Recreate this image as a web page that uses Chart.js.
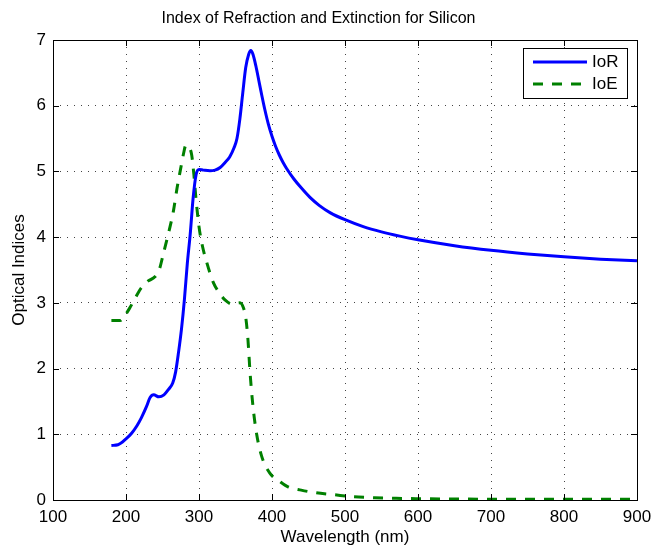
<!DOCTYPE html>
<html>
<head>
<meta charset="utf-8">
<title>Index of Refraction and Extinction for Silicon</title>
<script src="https://cdn.jsdelivr.net/npm/chart.js@4.4.1/dist/chart.umd.min.js"></script>
<style>
    html, body { margin: 0; padding: 0; background: #fff; }
    #chart { display: block; }
</style>
</head>
<body>
<canvas id="chart" width="654" height="549"></canvas>
<script>
// Values
const iorWavelength = [180, 189, 200, 208, 215, 221, 228, 233, 238, 245, 252, 258, 264, 268, 272, 276,
    280, 284, 288, 292, 296, 300, 306, 315, 322, 329, 336, 342, 348, 352, 356, 360, 364, 368, 371,
    374, 378, 382, 386, 390, 395, 400, 405, 410, 415, 420, 430, 440, 452, 465, 480, 500, 525, 550, 575, 600,
    650, 700, 750, 800, 850, 900];
const iorValue = [0.83, 0.84, 0.93, 1.02, 1.13, 1.25, 1.42, 1.56, 1.60, 1.57, 1.60, 1.68, 1.78, 1.95, 2.25, 2.6,
    3.05, 3.6, 4.05, 4.6, 4.95, 5.03, 5.02, 5.01, 5.02, 5.06, 5.14, 5.22, 5.36, 5.5, 5.8, 6.2, 6.58, 6.78, 6.84,
    6.78, 6.6, 6.38, 6.16, 5.95, 5.72, 5.535, 5.38, 5.25, 5.14, 5.045, 4.885, 4.75, 4.605, 4.48, 4.37, 4.265,
    4.16, 4.08, 4.015, 3.96, 3.87, 3.80, 3.745, 3.70, 3.665, 3.64];

const ioeWavelength = [180, 192, 198, 205, 213, 221, 230, 240, 246, 251, 258, 265, 270, 275, 279, 282,
    286, 290, 293, 296, 300, 304, 311, 320, 328, 336, 346, 356, 361, 364, 367, 370, 374, 379, 386,
    397, 411, 422, 440, 460, 485, 510, 540, 570, 600, 650, 700, 800, 900];
const ioeValue = [2.73, 2.73, 2.8, 2.92, 3.08, 3.23, 3.33, 3.4, 3.52, 3.74, 4.05, 4.4, 4.75, 5.05, 5.28, 5.4,
    5.38, 5.25, 4.95, 4.57, 4.16, 3.9, 3.6, 3.3, 3.15, 3.04, 2.98, 3.0, 2.92, 2.78, 2.45, 1.93, 1.42, 1.0, 0.66,
    0.41, 0.28, 0.2, 0.15, 0.11, 0.08, 0.05, 0.035, 0.025, 0.02, 0.015, 0.012, 0.01, 0.01];

const xTicks = [100, 200, 300, 400, 500, 600, 700, 800, 900];
const yTicks = [0, 1, 2, 3, 4, 5, 6, 7];

const FONT = 'Liberation Sans, Arial, Helvetica, sans-serif';

function toPoints(xs, ys) {
    return xs.map((x, i) => ({ x: x, y: ys[i] }));
}

// frame, inward ticks on all four sides (matlab style) and the boxed legend
const matlabBox = {
    id: 'matlabBox',
    afterDraw(chart) {
        const ctx = chart.ctx;
        const a = chart.chartArea;
        const xs = chart.scales.x;
        const ys = chart.scales.y;
        const len = 6;

        ctx.save();
        ctx.strokeStyle = '#000';
        ctx.lineWidth = 1;
        ctx.setLineDash([]);
        ctx.beginPath();
        xTicks.forEach(v => {
            const px = Math.round(xs.getPixelForValue(v)) + 0.5;
            ctx.moveTo(px, a.bottom); ctx.lineTo(px, a.bottom - len);
            ctx.moveTo(px, a.top); ctx.lineTo(px, a.top + len);
        });
        yTicks.forEach(v => {
            const py = Math.round(ys.getPixelForValue(v)) + 0.5;
            ctx.moveTo(a.left, py); ctx.lineTo(a.left + len, py);
            ctx.moveTo(a.right, py); ctx.lineTo(a.right - len, py);
        });
        ctx.stroke();
        ctx.strokeRect(Math.round(a.left) + 0.5, Math.round(a.top) + 0.5,
            Math.round(a.right - a.left), Math.round(a.bottom - a.top));

        // legend
        const bx = 523, by = 48, bw = 104, bh = 50;
        ctx.fillStyle = '#fff';
        ctx.fillRect(bx, by, bw, bh);
        ctx.strokeRect(bx + 0.5, by + 0.5, bw, bh);
        ctx.font = '17px ' + FONT;
        ctx.textBaseline = 'middle';
        chart.data.datasets.forEach((ds, i) => {
            const y = by + 14 + i * 22;
            ctx.strokeStyle = ds.borderColor;
            ctx.lineWidth = ds.borderWidth;
            ctx.setLineDash(ds.borderDash || []);
            ctx.beginPath();
            ctx.moveTo(bx + 10, y);
            ctx.lineTo(bx + 64, y);
            ctx.stroke();
            ctx.setLineDash([]);
            ctx.fillStyle = '#000';
            ctx.fillText(ds.label, bx + 69, y);
        });
        ctx.restore();
    }
};

new Chart(document.getElementById('chart'), {
    type: 'line',
    data: {
        datasets: [{
            label: 'IoR',
            data: toPoints(iorWavelength, iorValue),
            borderColor: '#0000ff',
            borderWidth: 3,
            pointRadius: 0,
            cubicInterpolationMode: 'monotone',
            fill: false
        }, {
            label: 'IoE',
            data: toPoints(ioeWavelength, ioeValue),
            borderColor: '#008000',
            borderWidth: 3,
            borderDash: [10, 9],
            pointRadius: 0,
            cubicInterpolationMode: 'monotone',
            fill: false
        }]
    },
    options: {
        responsive: false,
        animation: false,
        events: [],
        layout: { padding: { left: 0, right: 17, top: 0, bottom: 0 } },
        plugins: {
            legend: { display: false },
            tooltip: { enabled: false },
            title: {
                display: true,
                text: 'Index of Refraction and Extinction for Silicon',
                color: '#000',
                font: { family: FONT, size: 16, weight: 'normal' },
                padding: { top: 9, bottom: 11.8 }
            }
        },
        scales: {
            x: {
                type: 'linear',
                min: 100,
                max: 900,
                afterBuildTicks: s => { s.ticks = xTicks.map(v => ({ value: v })); },
                afterFit: s => { s.height = 49; s.paddingLeft = 0; s.paddingRight = 0; },
                ticks: {
                    color: '#000',
                    padding: 7,
                    maxRotation: 0,
                    font: { family: FONT, size: 17 }
                },
                grid: { color: '#444', lineWidth: 1, drawTicks: false },
                border: { display: false, dash: [1, 6] },
                title: {
                    display: true,
                    text: 'Wavelength (nm)',
                    color: '#000',
                    font: { family: FONT, size: 17 },
                    padding: { top: 0, bottom: 1 }
                }
            },
            y: {
                min: 0,
                max: 7,
                afterBuildTicks: s => { s.ticks = yTicks.map(v => ({ value: v })); },
                afterFit: s => { s.width = 53; s.paddingTop = 0; s.paddingBottom = 0; },
                ticks: {
                    color: '#000',
                    padding: 7,
                    font: { family: FONT, size: 17 }
                },
                grid: { color: '#444', lineWidth: 1, drawTicks: false },
                border: { display: false, dash: [1, 6] },
                title: {
                    display: true,
                    text: 'Optical Indices',
                    color: '#000',
                    font: { family: FONT, size: 17 },
                    padding: { top: 9, bottom: 0 }
                }
            }
        }
    },
    plugins: [matlabBox]
});
</script>
</body>
</html>
